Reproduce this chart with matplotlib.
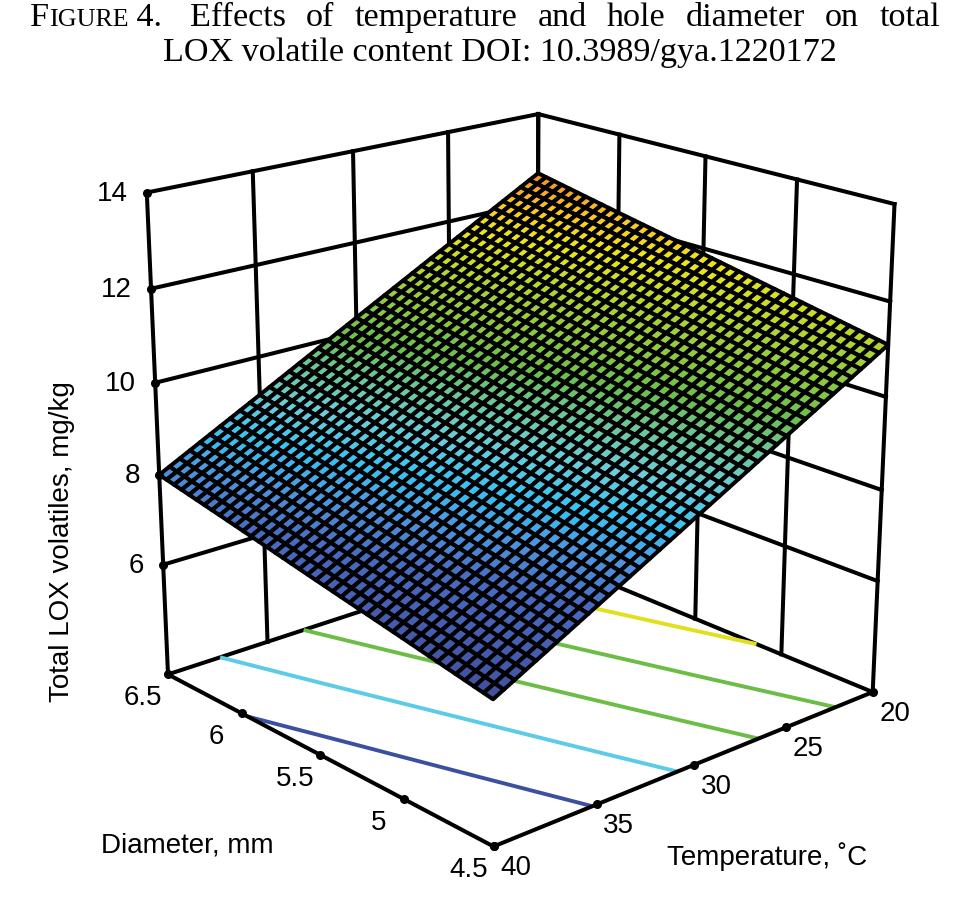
import numpy as np
import matplotlib
matplotlib.use("Agg")
import matplotlib.pyplot as plt
from matplotlib.colors import LinearSegmentedColormap, Normalize
from matplotlib.transforms import IdentityTransform
from mpl_toolkits.mplot3d import proj3d

# ---------------- data ----------------
temperature_c = [20, 25, 30, 35, 40]
diameter_mm = [4.5, 5.0, 5.5, 6.0, 6.5]
# total LOX volatiles (mg/kg) at the tick intersections; rows: temperature, cols: diameter
total_lox = [
    [11.10, 11.49, 11.88, 12.26, 12.65],
    [9.95, 10.34, 10.72, 11.10, 11.49],
    [8.80, 9.19, 9.57, 9.95, 10.33],
    [7.65, 8.03, 8.41, 8.79, 9.16],
    [6.50, 6.88, 7.25, 7.63, 8.00],
]
contour_levels = [7.6, 8.6, 9.6, 10.6, 11.6]
z_ticks = [6, 8, 10, 12, 14]
z_limits = [3.5, 14]
temp_tick_labels = ["20", "25", "30", "35", "40"]
diam_tick_labels = ["4.5", "5", "5.5", "6", "6.5"]
z_tick_labels = ["6", "8", "10", "12", "14"]

# ---------------- style ----------------
W, H = 955, 902
SANS = "Liberation Sans"
SERIF = "Liberation Serif"
surface_colors = [
    (0.00, (0.26, 0.31, 0.62)),
    (0.18, (0.28, 0.42, 0.76)),
    (0.27, (0.30, 0.60, 0.88)),
    (0.34, (0.22, 0.76, 0.95)),
    (0.42, (0.42, 0.80, 0.86)),
    (0.50, (0.42, 0.78, 0.62)),
    (0.58, (0.42, 0.75, 0.30)),
    (0.72, (0.65, 0.82, 0.22)),
    (0.85, (0.93, 0.90, 0.10)),
    (0.92, (0.98, 0.78, 0.15)),
    (1.00, (0.95, 0.55, 0.15)),
]
cmap = LinearSegmentedColormap.from_list("lox", surface_colors)
contour_colors = ["#3c50a2", "#5ccbe6", "#6cbd45", "#6cbd45", "#e0e01c"]
LW = 2.9

# mesh used to render the surface (rendering resolution of the surface)
T_tab = np.array(temperature_c, float)
D_tab = np.array(diameter_mm, float)
Z_tab = np.array(total_lox, float)
T_mesh = np.linspace(T_tab[0], T_tab[-1], 41)
D_mesh = np.linspace(D_tab[0], D_tab[-1], 41)
rows = np.array([np.interp(D_mesh, D_tab, r) for r in Z_tab])          # (5, 41)
Z = np.array([np.interp(T_mesh, T_tab, rows[:, j]) for j in range(len(D_mesh))])  # (D, T)
Dg, Tg = np.meshgrid(D_mesh, T_mesh, indexing="ij")

zmin, zmax = z_limits
dlo, dhi = D_tab[0], D_tab[-1]
tlo, thi = T_tab[0], T_tab[-1]

fig = plt.figure(figsize=(W / 100, H / 100), dpi=100)
ax = fig.add_axes([0, 0, 1, 1], projection="3d", proj_type="persp", focal_length=0.62)
ax.set_box_aspect((1, 1, 1.0))
ax.view_init(elev=19.5, azim=138.5)
ax.set_xlim(dlo, dhi)
ax.set_ylim(tlo, thi)
ax.set_zlim(zmin, zmax)
ax.set_axis_off()
ax.computed_zorder = False

# back walls (D = 6.5 wall and T = 20 wall)
for t in T_tab:
    ax.plot([dhi, dhi], [t, t], [zmin, zmax], color="k", lw=LW, zorder=1)
for d in D_tab:
    ax.plot([d, d], [tlo, tlo], [zmin, zmax], color="k", lw=LW, zorder=1)
for z in [zmin] + z_ticks:
    ax.plot([dhi, dhi], [tlo, thi], [z, z], color="k", lw=LW, zorder=1)
    ax.plot([dlo, dhi], [tlo, tlo], [z, z], color="k", lw=LW, zorder=1)

# floor contours
ax.contour(Dg, Tg, Z, levels=contour_levels, zdir="z", offset=zmin,
           colors=contour_colors, linewidths=2.8, zorder=2)

# surface
ax.plot_surface(Dg, Tg, Z, cmap=cmap, norm=Normalize(Z_tab.min(), Z_tab.max()),
                edgecolor="k", linewidth=2.9, rstride=1, cstride=1,
                shade=False, antialiased=True, zorder=3)

# front axis edges
ax.plot([dlo, dhi], [thi, thi], [zmin, zmin], color="k", lw=LW, zorder=4)
ax.plot([dlo, dlo], [tlo, thi], [zmin, zmin], color="k", lw=LW, zorder=4)
# tick dots
ax.plot(D_tab, [thi] * len(D_tab), [zmin] * len(D_tab), "o", color="k", ms=5.5, zorder=5)
ax.plot([dlo] * len(T_tab), T_tab, [zmin] * len(T_tab), "o", color="k", ms=5.5, zorder=5)
ax.plot([dhi] * len(z_ticks), [thi] * len(z_ticks), z_ticks, "o", color="k", ms=5.5, zorder=5)

# ---- align the box to the page layout ----
corners = [((dhi, thi, zmax), (147, 195)), ((dhi, thi, zmin), (172, 677)),
           ((dhi, tlo, zmax), (535, 112)), ((dhi, tlo, zmin), (535, 551)),
           ((dlo, tlo, zmax), (897, 204)), ((dlo, tlo, zmin), (873, 690)),
           ((dlo, thi, zmin), (492, 848))]
fig.canvas.draw()


def to_px(x, y, z):
    x2, y2, _ = proj3d.proj_transform(x, y, z, ax.get_proj())
    return ax.transData.transform((x2, y2))


cur = np.array([to_px(*p) for p, _ in corners])
tgt = np.array([[u, H - v] for _, (u, v) in corners], float)
cm, tm = cur.mean(0), tgt.mean(0)
k = ((cur - cm) * (tgt - tm)).sum() / ((cur - cm) ** 2).sum()
tr = tm - k * cm
pos = ax.get_position()
x0, y0, x1, y1 = pos.x0 * W, pos.y0 * H, pos.x1 * W, pos.y1 * H
nx0, ny0, nx1, ny1 = k * x0 + tr[0], k * y0 + tr[1], k * x1 + tr[0], k * y1 + tr[1]
ax.set_position([nx0 / W, ny0 / H, (nx1 - nx0) / W, (ny1 - ny0) / H])
fig.canvas.draw()

PX = IdentityTransform()
TICK_FS = 20
for z, lab in zip(z_ticks, z_tick_labels):
    px, py = to_px(dhi, thi, z)
    fig.text(px - 19, py - 1, lab, transform=PX, ha="right", va="center",
             fontsize=TICK_FS, family=SANS)
for d, lab in zip(D_tab, diam_tick_labels):
    px, py = to_px(d, thi, zmin)
    fig.text(px - 25, py - 24, lab, transform=PX, ha="center", va="center",
             fontsize=TICK_FS, family=SANS)
for t, lab in zip(T_tab, temp_tick_labels):
    px, py = to_px(dlo, t, zmin)
    fig.text(px + 22, py - 22, lab, transform=PX, ha="center", va="center",
             fontsize=TICK_FS, family=SANS)

# axis titles
fig.text(62, H - 542, "Total LOX volatiles, mg/kg", transform=PX, rotation=90,
         ha="center", va="center", fontsize=20, family=SANS)
fig.text(187, H - 845, "Diameter, mm", transform=PX, ha="center", va="center",
         fontsize=20, family=SANS)
fig.text(767, H - 857, "Temperature, \u02daC", transform=PX, ha="center", va="center",
         fontsize=20, family=SANS)

# caption (justified first line, centred second line)
r = fig.canvas.get_renderer()
TFS = 24.6


def put(x, y, s, size):
    t = fig.text(x, y, s, transform=PX, fontsize=size, family=SERIF,
                 ha="left", va="baseline")
    return t.get_window_extent(renderer=r).x1


yb1, yb2 = H - 26, H - 61
x = put(30, yb1, "F", TFS)
x = put(x, yb1, "IGURE", TFS * 0.76)
put(x, yb1, " 4.", TFS)
words = "Effects of temperature and hole diameter on total".split()
widths = []
for w_ in words:
    t = fig.text(0, 0, w_, fontsize=TFS, family=SERIF)
    widths.append(t.get_window_extent(renderer=r).width)
    t.remove()
start, end = 190, 940
gap = (end - start - sum(widths)) / (len(words) - 1)
x = start
for w_, wd in zip(words, widths):
    put(x, yb1, w_, TFS)
    x += wd + gap
put(163, yb2, "LOX volatile content DOI: 10.3989/gya.1220172", TFS)

fig.savefig("out.png", dpi=100)
